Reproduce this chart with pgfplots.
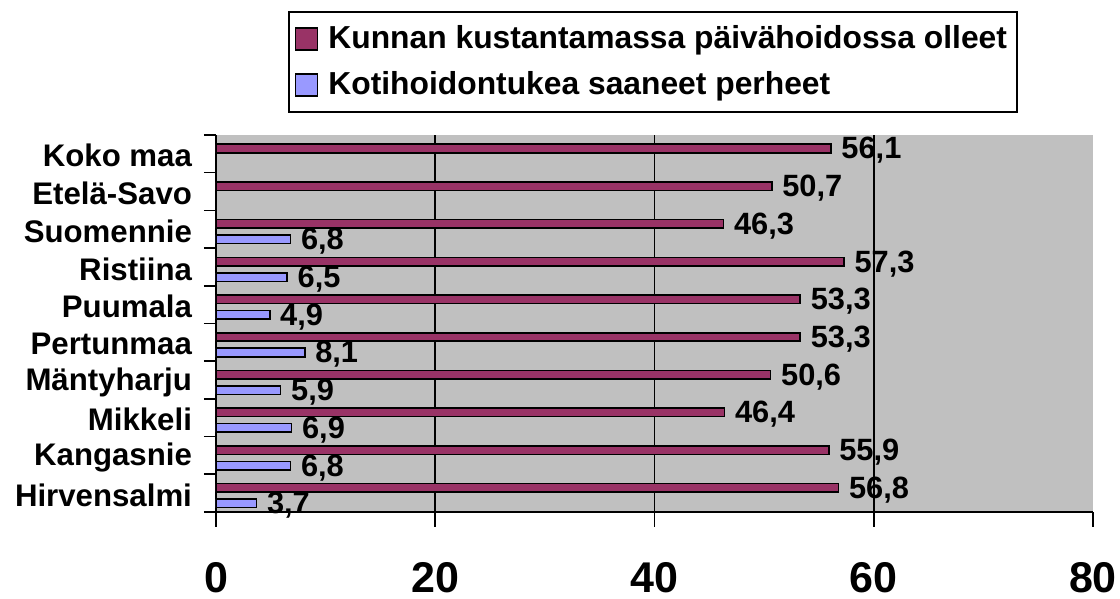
\documentclass[border=0pt]{standalone}
\usepackage{pgfplots}
\pgfplotsset{compat=1.18}
\usepackage{fontspec}
\setmainfont{Liberation Sans}
\definecolor{barred}{HTML}{993366}
\definecolor{barblue}{HTML}{9999FF}
\definecolor{plotgray}{HTML}{C0C0C0}
\begin{document}
\begin{tikzpicture}
\useasboundingbox (-108pt,-43.5pt) rectangle (452pt,256pt);
\begin{axis}[
  at={(0,0)}, anchor=south west,
  scale only axis, width=438.5pt, height=188.5pt,
  xbar, bar width=4.25pt,
  xmin=0, xmax=80, ymin=-0.5, ymax=9.5,
  axis x line*=bottom, axis y line*=left,
  axis line style={black, line width=0.9pt},
  axis background/.style={fill=plotgray},
  xtick={0,20,40,60,80},
  extra x ticks={20,40,60},
  extra x tick labels={},
  extra x tick style={grid=major, major tick length=0pt},
  grid style={black, line width=0.8pt},
  ytick={0,...,9},
  yticklabels={Hirvensalmi,Kangasnie,Mikkeli,Mäntyharju,Pertunmaa,Puumala,Ristiina,Suomennie,Etelä-Savo,Koko maa},
  minor ytick={-0.5,0.5,...,9.5},
  tick align=outside,
  major tick length=7.5pt, minor tick length=6pt,
  major y tick style={draw=none},
  minor y tick style={black, line width=0.8pt},
  major x tick style={black, line width=0.8pt},
  /pgf/number format/assume math mode=true,
  xticklabel style={font=\bfseries\fontsize{21.5}{25}\selectfont, inner sep=0pt, yshift=-17.3pt},
  yticklabel style={font=\bfseries\fontsize{15.6}{18}\selectfont, xshift=-1pt, yshift=-1pt},
  point meta=x,
  nodes near coords,
  nodes near coords style={font=\bfseries\fontsize{15.4}{18}\selectfont, anchor=west, xshift=1.5pt, yshift=-1pt,
    /pgf/number format/.cd, fixed, fixed zerofill, precision=1, use comma, assume math mode=true},
  legend image code/.code={\draw[#1, line width=0.8pt] (0pt,-5.5pt) rectangle (11pt,5.5pt);},
  legend style={at={(0.082,1.329)}, anchor=north west, draw=black, line width=0.9pt,
    font=\bfseries\fontsize{15.9}{18}\selectfont, legend cell align=left,
    row sep=6pt, column sep=3pt, inner xsep=3pt, inner ysep=5pt},
]
\addplot[fill=barred, draw=black, line width=0.8pt, bar shift=2.65pt] coordinates {
(56.8,0) (55.9,1) (46.4,2) (50.6,3) (53.3,4) (53.3,5) (57.3,6) (46.3,7) (50.7,8) (56.1,9)};
\addlegendentry{Kunnan kustantamassa päivähoidossa olleet}
\addplot[fill=barblue, draw=black, line width=0.8pt, bar shift=-5.1pt] coordinates {
(3.7,0) (6.8,1) (6.9,2) (5.9,3) (8.1,4) (4.9,5) (6.5,6) (6.8,7)};
\addlegendentry{Kotihoidontukea saaneet perheet}
\end{axis}
\end{tikzpicture}
\end{document}
